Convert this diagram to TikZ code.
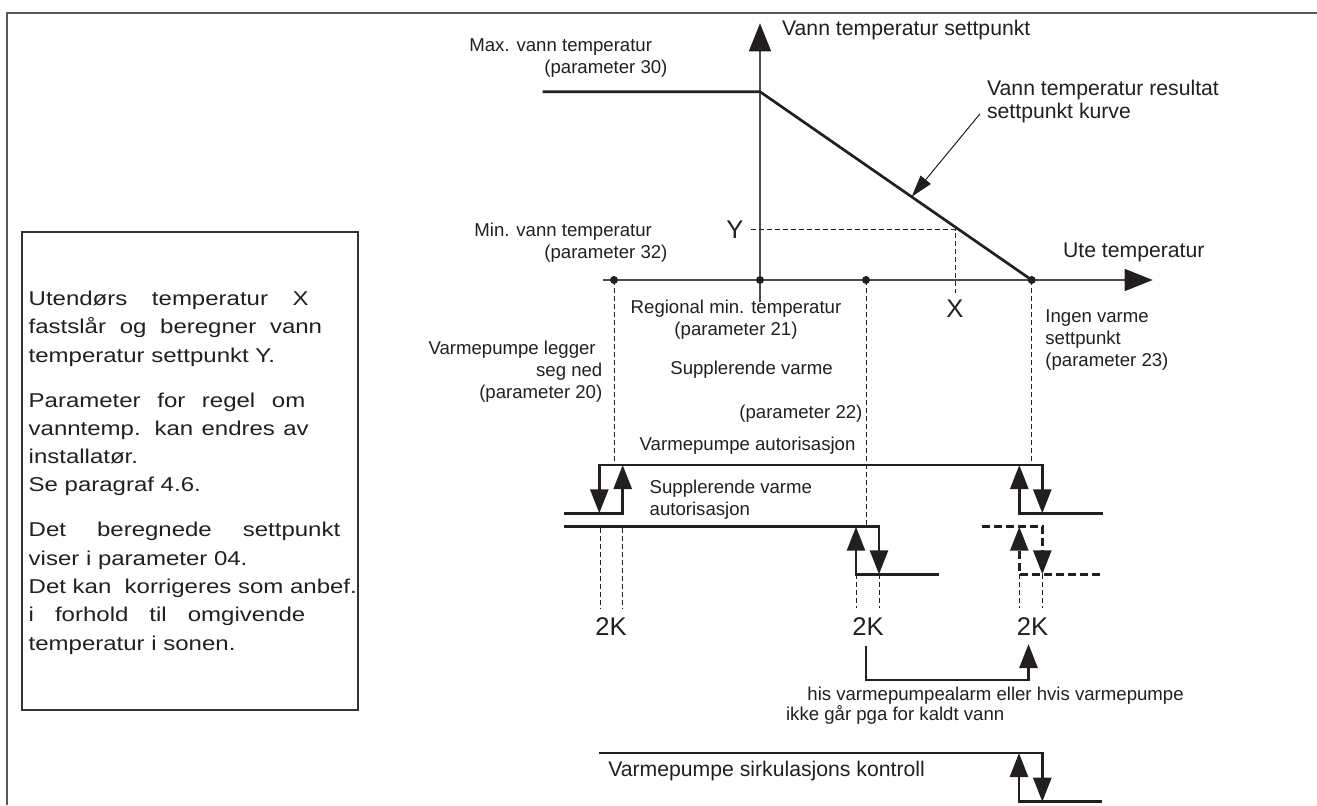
\documentclass[tikz,border=0pt]{standalone}
\usepackage{fontspec}
\setmainfont{Liberation Sans}
\newfontfamily\boxfont[FakeStretch=1.2]{Liberation Sans}
\usetikzlibrary{arrows.meta}
\definecolor{ink}{HTML}{231F20}

\tikzset{
  hy/.tip={Triangle[length=12pt,width=9pt]},
  lbl/.style={inner sep=0pt, text=ink, font=\fontsize{9.3}{11}\selectfont},
  title/.style={inner sep=0pt, text=ink, font=\fontsize{10.6}{11.3}\selectfont},
  kval/.style={text=ink, font=\fontsize{12.8}{15}\selectfont},
  axis/.style={line width=0.75pt, black!70, -{Triangle[length=14pt,width=11pt,color=ink]}},
  curve/.style={line width=1.35pt, ink},
  level/.style={line width=1.35pt, ink, line cap=rect},
  dashlevel/.style={level, line cap=butt, dash pattern=on 4pt off 2pt},
  guide/.style={line width=0.5pt, ink, dash pattern=on 2.5pt off 1.5pt},
  pointer/.style={line width=0.5pt, ink, -{Triangle[length=11pt,width=6.5pt]}},
  dot/.style={circle, fill=ink, inner sep=0pt, minimum size=4pt},
}

\begin{document}
\begin{tikzpicture}[x=0.5pt, y=-0.5pt]
  \useasboundingbox (0,0) rectangle (1317,805);
  % page frame
  \draw[line width=1pt, black!65] (7,805) -- (7,12.7) -- (1317,12.7);

  % explanation box (base = last line)
  \draw[line width=0.65pt, black!80] (22,232) rectangle (358,710);
  \node[anchor=base west, inner sep=0pt, align=left, text=ink,
        font=\boxfont\fontsize{10}{14.15}\selectfont] (info) at (28.3,650) {%
    \makebox[140pt][s]{Utendørs temperatur X}\\
    \makebox[146.7pt][s]{fastslår og beregner vann}\\
    temperatur settpunkt Y.\\[8.3pt]
    \makebox[138.3pt][s]{Parameter for regel om}\\
    \makebox[140pt][s]{vanntemp. kan endres av}\\
    installatør.\\
    Se paragraf 4.6.\\[8.3pt]
    \makebox[155.8pt][s]{Det beregnede settpunkt}\\
    viser i parameter 04.\\
    Det kan\ \ korrigeres som anbef.\\
    \makebox[138.3pt][s]{i forhold til omgivende}\\
    temperatur i sonen.};

  % axes
  \draw[axis] (760,301.7) -- (760,23.3);
  \draw[axis] (602.7,280) -- (1152.7,280);
  \node[title, anchor=base west] (ytitle) at (781.7,35) {Vann temperatur settpunkt};
  \node[title, anchor=base west] (xtitle) at (1062.7,257.3) {Ute temperatur};

  \node[dot] (dwp)  at (614,280) {};
  \node[dot] (dreg) at (760,280) {};
  \node[dot] (dsup) at (866,280) {};
  \node[dot] (dnoh) at (1031.7,280) {};

  % setpoint curve
  \draw[curve] (542.7,91.7) -- (760,91.7) -- (dnoh.center);
  \coordinate (crvpt) at (911.7,196.7);
  \node[title, anchor=base west, align=left] (crvlbl) at (986.7,118.3)
    {Vann temperatur resultat\\settpunkt kurve};
  \draw[pointer] ([xshift=-3.3pt,yshift=4.7pt]crvlbl.south west) -- (crvpt);

  % reading X -> Y
  \node[kval] (ylbl) at (735,229.5) {Y};
  \node[kval] (xlbl) at (955,308.5) {X};
  \draw[guide] (ylbl.east) -- (xlbl.north |- ylbl.east) -- (xlbl.north);

  % labels
  \node[lbl, anchor=base west] (maxlbl) at (469,51.7) {Max. vann temperatur};
  \node[lbl, anchor=base west] (maxpar) at (544,73.3) {(parameter 30)};
  \node[lbl, anchor=base west] (minlbl) at (474,236.7) {Min. vann temperatur};
  \node[lbl, anchor=base west] (minpar) at (544,258.3) {(parameter 32)};
  \node[lbl, anchor=base, align=center] (reglbl) at (736,335)
    {Regional min. temperatur\\(parameter 21)};
  \node[lbl, anchor=base west, align=left] (nohlbl) at (1045,366.7)
    {Ingen varme\\settpunkt\\(parameter 23)};
  \node[lbl, anchor=base east, align=right] (wplbl) at (602.7,398.3)
    {Varmepumpe legger\hspace*{3.3pt}\\seg ned\hspace*{5pt}\\(parameter 20)};
  \node[lbl, anchor=base west] (suplbl) at (670,374) {Supplerende varme};
  \node[lbl, anchor=base west] (suppar) at (739,418.3) {(parameter 22)};
  \node[lbl, anchor=base west] (wpauth) at (639.3,450.7) {Varmepumpe autorisasjon};
  \node[lbl, anchor=base west, align=left] (supauth) at (649.3,515)
    {Supplerende varme\\autorisasjon};

  % dashed guides from the axis
  \draw[guide] (dwp.center) -- (614,465);
  \draw[guide] (dsup.center) -- (866,526.7);
  \draw[guide] (dnoh.center) -- (1031.7,465);

  % heat pump authorisation
  \draw[level, hy-hy] (599.3,513.3) -- (599.3,465) -- (1042.3,465) -- (1042.3,513.3);
  \draw[level, -hy] (565.7,513.3) -- (622.7,513.3) -- (622.7,465);
  \draw[level, -hy] (1101.7,513.3) -- (1019.3,513.3) -- (1019.3,465);

  % supplementary heat authorisation
  \draw[level, -hy] (565.7,526.7) -- (879,526.7) -- (879,574.3);
  \draw[level, -hy] (937.7,574.3) -- (856,574.3) -- (856,526.7);
  \draw[dashlevel, -hy] (981.7,526.7) -- (1042.3,526.7) -- (1042.3,574.3);
  \draw[dashlevel, -hy] (1100,574.3) -- (1019.3,574.3) -- (1019.3,526.7);

  % 2K hysteresis marks
  \foreach \x/\y in {600/528, 622.7/528, 856/574.3, 879/574.3, 1019.3/574.3, 1042.3/574.3}
    \draw[guide] (\x,\y) -- (\x,608.3);
  \node[kval] (k1) at (611,627) {2K};
  \node[kval] (k2) at (868,627) {2K};
  \node[kval] (k3) at (1032.5,627) {2K};
  \draw[level, line cap=butt, -hy] ([xshift=-1pt,yshift=-1.5pt]k2.south) -- ++(0,34)
    -| ([xshift=-2pt,yshift=-0.5pt]k3.south);
  \node[lbl, anchor=base west] (alarm1) at (807,700) {his varmepumpealarm eller hvis varmepumpe};
  \node[lbl, anchor=base west] (alarm2) at (785.7,720) {ikke går pga for kaldt vann};

  % circulation control
  \draw[level, -hy] (600,753) -- (1042.3,753) -- (1042.3,801.7);
  \draw[level, -hy] (1101,801.7) -- (1019,801.7) -- (1019,753);
  \node[title, anchor=base west] (circ) at (607.9,776.7) {Varmepumpe sirkulasjons kontroll};
\end{tikzpicture}
\end{document}
